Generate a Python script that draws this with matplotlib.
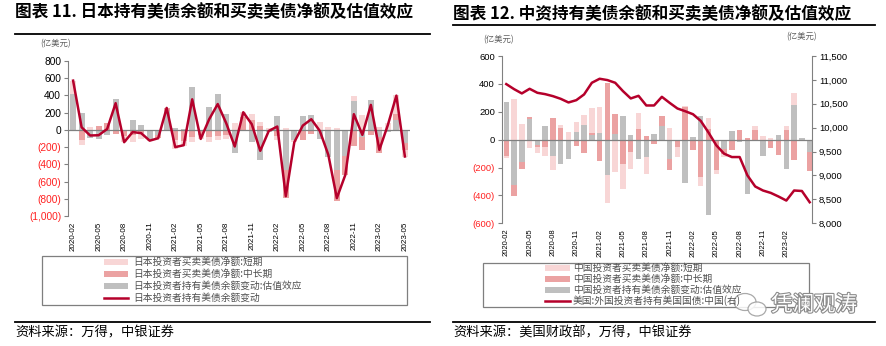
import numpy as np
import pandas as pd
import matplotlib
matplotlib.use('Agg')
import matplotlib.pyplot as plt
from matplotlib.lines import Line2D
from matplotlib.patches import Rectangle, Ellipse
import matplotlib.patheffects as pe

# ---- data (亿美元) ----
months = pd.period_range('2020-02', '2023-05', freq='M').strftime('%Y-%m').tolist()

# 日本
jp_val = [420, 200, -89, -108, -65, 355, -10, 116, 60, -100,
          -60, 225, 20, 10, 500, -10, 270, 420, 180, -263,
          -5, -135, -350, -30, 162, -470, -115, 166, 170, -110,
          -320, -470, -300, 330, -80, 350, -80, -20, 120, -150]
jp_mid = [0, -116, 0, 45, 75, -45, -60, -60, -40, 0,
          -37, 30, -120, -130, -80, -50, -80, -70, -60, 0,
          150, 120, 50, 0, -70, -320, 0, -116, -45, 0,
          0, -350, -220, -190, -150, -58, -190, 0, 60, -80]
jp_short = [150, -54, 30, 0, 0, 0, -75, -80, -60, -25,
            0, 0, -100, -55, -65, -45, -65, -50, -40, 77,
            60, 70, 45, 18, -50, 20, -30, 0, 0, 95,
            30, 25, 0, 60, 170, 0, 38, 80, 220, -80]
jp_total = [572, 30, -65, -62, 10, 310, -143, -25, -38, -125,
            -97, 255, -200, -178, 355, -105, 125, 300, 77, -193,
            205, 66, -243, -12, 39, -770, -143, 50, 124, -12,
            -290, -792, -522, 182, -58, 290, -232, 58, 398, -309]

# 中国
cn_val = [270, -322, -161, 151, -41, 96, -120, -178, -137, 55,
          103, 30, 48, -257, 38, 168, 31, -137, -125, 38,
          96, -137, 0, -312, 19, 168, -540, 0, -65, 62,
          -20, -389, 0, -120, 0, 31, -209, 247, 10, -89]
cn_mid = [-120, -84, -53, 12, -12, -53, 154, 85, 0, -48,
          -94, 20, -154, 408, 144, -178, -89, 79, 24, -34,
          72, -79, -53, 235, -72, -269, 79, -221, -40, -77,
          72, 14, 72, 0, -58, -113, 72, -144, 0, -137]
cn_short = [-15, 288, 110, -60, -43, -62, -96, 17, 53, 72,
            77, 175, 187, -199, -233, -175, -120, 113, -120, 0,
            0, 86, -72, 5, 0, -60, 79, -24, -20, 0,
            0, 0, 24, 24, 14, 0, 24, 89, 5, 0]
cn_hold = [10912, 10807, 10717, 10814, 10730, 10702, 10660, 10604, 10528, 10576,
           10696, 10940, 11024, 10996, 10940, 10765, 10612, 10667, 10465, 10465,
           10646, 10520, 10402, 10345, 10282, 10142, 9898, 9631, 9456, 9386,
           9386, 9002, 8770, 8686, 8636, 8560, 8476, 8686, 8676, 8441]

jp_labels = ['日本投资者买卖美债净额:短期', '日本投资者买卖美债净额:中长期',
             '日本投资者持有美债余额变动:估值效应', '日本投资者持有美债余额变动']
cn_labels = ['中国投资者买卖美债净额:短期', '中国投资者买卖美债净额:中长期',
             '中国投资者持有美债余额变动:估值效应', '美国:外国投资者持有美国国债:中国(右)']

# ---- style ----
W, H = 886, 346
CJK = ['Noto Sans CJK SC', 'DejaVu Sans']
NUM = ['Liberation Sans', 'DejaVu Sans']
C_SHORT = '#F8D6D6'
C_MID = '#EBA2A2'
C_VAL = '#BFBFBF'
C_LINE = '#B5002B'
C_AX = '#808080'
C_NEG = '#FF2020'


def fx(x):
    return x / W


def fy(y):
    return 1 - y / H


def stack_bars(ax, x, series, colors, width):
    # 正负分开堆叠
    pos = np.zeros(len(x))
    neg = np.zeros(len(x))
    for vals, c in zip(series, colors):
        v = np.asarray(vals, dtype=float)
        bottom = np.where(v >= 0, pos, neg)
        ax.bar(x, v, width, bottom=bottom, color=c, linewidth=0, zorder=2)
        pos += np.clip(v, 0, None)
        neg += np.clip(v, None, 0)


def fmt(v):
    return f'({abs(v):,.0f})' if v < 0 else f'{v:,.0f}'


def style_axis(ax, ticks, size):
    ax.set_yticks(ticks)
    ax.set_yticklabels([fmt(t) for t in ticks], fontfamily=NUM, fontsize=size)
    for lbl, t in zip(ax.get_yticklabels(), ticks):
        lbl.set_color(C_NEG if t < 0 else 'black')
    for s in ['top', 'right', 'bottom']:
        ax.spines[s].set_visible(False)
    ax.spines['left'].set_color(C_AX)
    ax.tick_params(axis='y', direction='out', length=3, color=C_AX, pad=2)
    ax.tick_params(axis='x', length=0, pad=4)


def legend_box(fig, box, px0, px1, tx, rows, labels):
    x0, y0, x1, y1 = box
    fig.add_artist(Rectangle((fx(x0), fy(y1)), fx(x1) - fx(x0), fy(y0) - fy(y1),
                             transform=fig.transFigure, fill=False,
                             edgecolor='#7F7F7F', linewidth=0.9))
    for y, c in zip(rows[:3], [C_SHORT, C_MID, C_VAL]):
        fig.add_artist(Rectangle((fx(px0), fy(y + 3)), fx(px1) - fx(px0), fy(y - 3) - fy(y + 3),
                                 transform=fig.transFigure, facecolor=c, linewidth=0))
    fig.add_artist(Line2D([fx(px0), fx(px1)], [fy(rows[3]), fy(rows[3])],
                          transform=fig.transFigure, color=C_LINE, linewidth=1.8))
    for y, t in zip(rows, labels):
        fig.text(fx(tx), fy(y), t, fontsize=7, family=CJK, color='#505050', va='center')


def header(fig, x0, x1, ty, ly, title):
    fig.text(fx(x0), fy(ty), title, fontsize=12, fontweight='bold', family=CJK, va='center')
    fig.add_artist(Line2D([fx(x0), fx(x1)], [fy(ly), fy(ly)], transform=fig.transFigure,
                          color='black', linewidth=1.3))
    fig.add_artist(Line2D([fx(x0), fx(x1)], [fy(322), fy(322)], transform=fig.transFigure,
                          color='black', linewidth=1.3))


fig = plt.figure(figsize=(W / 100, H / 100), dpi=100)
x = np.arange(len(months))

# ---- 图表 11 ----
header(fig, 15, 430, 12, 34, '图表 11. 日本持有美债余额和买卖美债净额及估值效应')
ax1 = fig.add_axes([fx(68), fy(216), fx(410) - fx(68), fy(61) - fy(216)])
stack_bars(ax1, x, [jp_val, jp_mid, jp_short], [C_VAL, C_MID, C_SHORT], 0.7)
ax1.axhline(0, color=C_AX, linewidth=0.9, zorder=3)
ax1.plot(x, jp_total, color=C_LINE, linewidth=1.8, zorder=4)
ax1.set_xlim(-0.6, 39.6)
ax1.set_ylim(-1000, 800)
style_axis(ax1, list(range(-1000, 801, 200)), 7.3)
ax1.set_xticks(x[::3])
ax1.set_xticklabels(months[::3], rotation=90, fontfamily=NUM, fontsize=5.8)
fig.text(fx(40), fy(44), '(亿美元)', fontsize=6, family=CJK, color='#606060', va='center')
legend_box(fig, (42, 256, 407, 305), 104, 128, 133, [262, 274, 286, 298], jp_labels)
fig.text(fx(15), fy(333), '资料来源：万得，中银证券', fontsize=9.5, family=CJK, va='center')

# ---- 图表 12 ----
header(fig, 453, 875, 14, 25, '图表 12. 中资持有美债余额和买卖美债净额及估值效应')
ax2 = fig.add_axes([fx(502), fy(223.3), fx(812) - fx(502), fy(56) - fy(223.3)])
stack_bars(ax2, x, [cn_val, cn_mid, cn_short], [C_VAL, C_MID, C_SHORT], 0.7)
ax2.axhline(0, color=C_AX, linewidth=0.9, zorder=3)
ax2.set_xlim(-0.55, 39.3)
ax2.set_ylim(-600, 600)
style_axis(ax2, list(range(-600, 601, 200)), 6.8)
ax2.set_xticks(x[:37:3])
ax2.set_xticklabels(months[:37:3], rotation=90, fontfamily=NUM, fontsize=5.5)

ax3 = ax2.twinx()
ax3.plot(x, cn_hold, color=C_LINE, linewidth=1.8, zorder=4)
ax3.set_ylim(8000, 11500)
ax3.set_yticks(range(8000, 11501, 500))
ax3.set_yticklabels([f'{v:,}' for v in range(8000, 11501, 500)], fontfamily=NUM, fontsize=6.8)
for s in ['top', 'left', 'bottom']:
    ax3.spines[s].set_visible(False)
ax3.spines['right'].set_color(C_AX)
ax3.tick_params(axis='y', direction='out', length=3, color=C_AX, pad=2)

fig.text(fx(483), fy(40), '(亿美元)', fontsize=6, family=CJK, color='#606060', va='center')
fig.text(fx(786), fy(37), '(亿美元)', fontsize=6, family=CJK, color='#606060', va='center')
legend_box(fig, (483, 263, 809, 307), 545, 570, 573, [268, 279, 290, 301], cn_labels)
fig.text(fx(453), fy(333), '资料来源：美国财政部，万得，中银证券', fontsize=9.5, family=CJK, va='center')

# 公众号水印
for cx, cy, w, h in [(745, 302, 22, 17), (757, 309, 18, 14)]:
    fig.add_artist(Ellipse((fx(cx), fy(cy)), fx(w), h / H, transform=fig.transFigure,
                           facecolor='white', edgecolor='#9A9A9A', linewidth=0.9, alpha=0.85))
fig.text(fx(771), fy(305), '凭澜观涛', fontsize=15.5, family=CJK, color='white', va='center',
         path_effects=[pe.withStroke(linewidth=1.6, foreground='#8C8C8C')])

fig.savefig('out.png', dpi=100)
